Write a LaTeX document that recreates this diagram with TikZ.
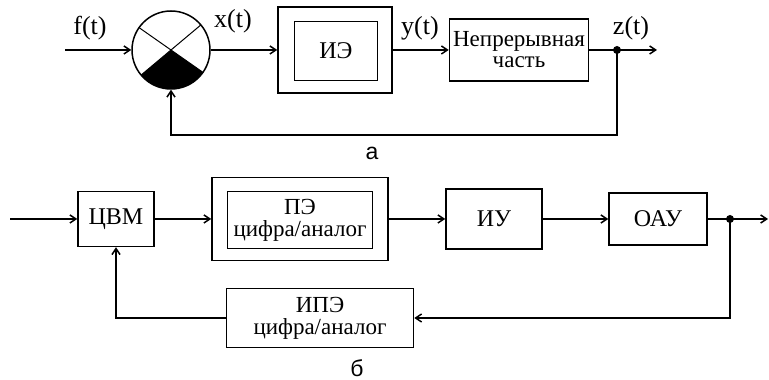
\documentclass[tikz,border=0pt]{standalone}
\usepackage{fontspec}
\setmainfont{Liberation Serif}
\newfontfamily\letterfont{Liberation Sans}
\usetikzlibrary{arrows.meta,calc}
\tikzset{
  blk/.style={draw,line width=1.5pt,inner sep=0pt,align=center,
    font=\fontsize{23}{24}\selectfont},
  capsblk/.style={blk,font=\fontsize{24}{26}\selectfont},
  sig/.style={font=\fontsize{26}{28}\selectfont},
  wire/.style={line width=1.5pt},
  >={Straight Barb[length=6pt,width=8pt]}
}
\begin{document}
\begin{tikzpicture}[x=1pt,y=1pt]
  \useasboundingbox (0,0) rectangle (769,380);
  % upper scheme (a)
  \coordinate (inA) at (65,330);
  \node[draw,circle,line width=1.5pt,minimum size=78pt,inner sep=0pt] (sum) at (171,330) {};
  \fill[shift={(sum)}] (0,0) -- (220:39pt) arc[start angle=220,end angle=325,radius=39pt] -- cycle;
  \draw[line width=1pt,shift={(sum)}] (145:39pt) -- (325:39pt) (40:39pt) -- (220:39pt);
  \node[blk,minimum width=114pt,minimum height=86pt] (ie) at (335,330) {};
  \node[capsblk,minimum width=83pt,minimum height=59pt] (ieIn) at (336,329) {ИЭ};
  \node[blk,minimum width=139pt,minimum height=62pt] (cont) at (519,330) {Непрерывная\\[-3pt]часть};
  \coordinate (dotA) at (617,330);
  \coordinate (outA) at (657,330);
  \coordinate (fbA) at (171,245);
  \draw[wire,->] (inA) -- (sum);
  \draw[wire,->] (sum) -- (ie);
  \draw[wire,->] (ie) -- (cont);
  \draw[wire,->] (cont) -- (outA);
  \draw[wire,->] (dotA) |- (fbA) -- (sum);
  \fill (dotA) circle (4pt);
  \node[sig] at (90,352) {f(t)};
  \node[sig] at (233,359) {x(t)};
  \node[sig] at (420,352) {y(t)};
  \node[sig] at (631,352) {z(t)};
  \node[font=\letterfont\fontsize{23}{24}\selectfont] at (372,227) {а};
  % lower scheme (b)
  \coordinate (inB) at (10,161);
  \node[capsblk,minimum width=76pt,minimum height=55pt] (cvm) at (116,161) {ЦВМ};
  \node[blk,minimum width=176pt,minimum height=83pt] (pe) at (300,161) {};
  \node[blk,minimum width=145pt,minimum height=57pt] (peIn) at (300,160) {ПЭ\\[-2pt]цифра/аналог};
  \node[capsblk,minimum width=96pt,minimum height=60pt] (iu) at (494,161) {ИУ};
  \node[capsblk,minimum width=98pt,minimum height=52pt] (oau) at (658,161) {ОАУ};
  \node[blk,minimum width=187pt,minimum height=59pt] (ipe) at (320,62) {ИПЭ\\[-2pt]цифра/аналог};
  \coordinate (dotB) at (730,161);
  \coordinate (outB) at (768,161);
  \draw[wire,->] (inB) -- (cvm);
  \draw[wire,->] (cvm) -- (pe);
  \draw[wire,->] (pe) -- (iu);
  \draw[wire,->] (iu) -- (oau);
  \draw[wire,->] (oau) -- (outB);
  \draw[wire,->] (dotB) |- (ipe);
  \draw[wire,->] (ipe) -| (cvm);
  \fill (dotB) circle (4pt);
  \node[font=\letterfont\fontsize{23}{24}\selectfont] at (357,12) {б};
\end{tikzpicture}
\end{document}
